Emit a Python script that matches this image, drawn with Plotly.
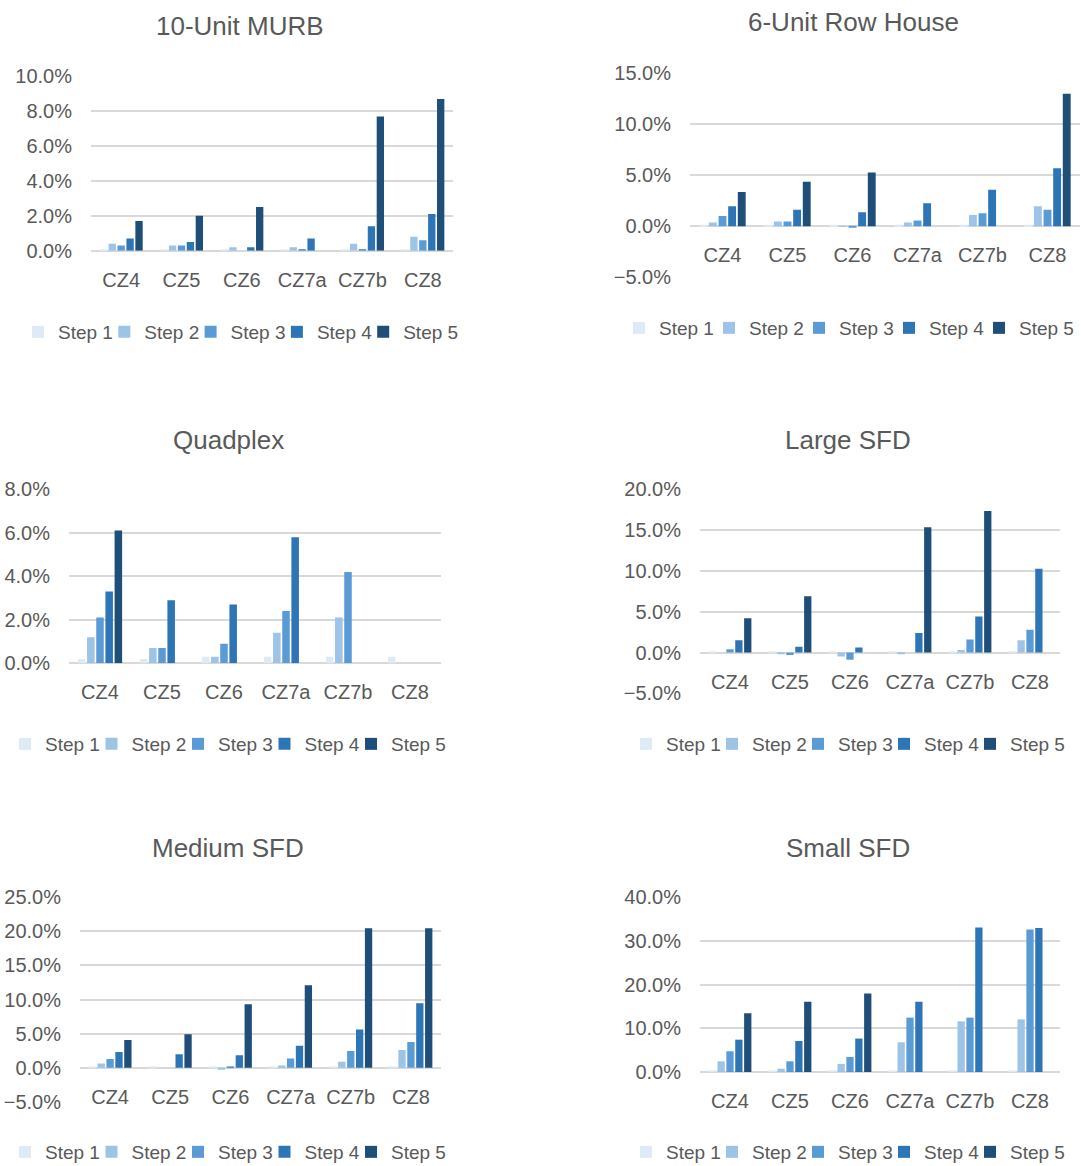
import plotly.graph_objects as go

W, H = 1081, 1166

zones = ["CZ4", "CZ5", "CZ6", "CZ7a", "CZ7b", "CZ8"]
steps = ["Step 1", "Step 2", "Step 3", "Step 4", "Step 5"]
step_colors = ["#DEEBF7", "#9DC3E6", "#5B9BD5", "#2E75B6", "#1F4E79"]

# Savings by step (%), one list per step, values per climate zone
murb_10unit = [
    [0.05, 0.05, 0.05, 0.05, 0.05, 0.05],
    [0.4, 0.3, 0.2, 0.2, 0.4, 0.8],
    [0.3, 0.3, 0.0, 0.1, 0.1, 0.6],
    [0.7, 0.5, 0.2, 0.7, 1.4, 2.1],
    [1.7, 2.0, 2.5, None, 7.7, 8.7],
]
row_house_6unit = [
    [0.1, 0.1, 0.1, 0.1, 0.1, 0.1],
    [0.35, 0.45, -0.05, 0.35, 1.1, 1.95],
    [1.0, 0.45, -0.1, 0.55, 1.25, 1.6],
    [1.95, 1.6, 1.35, 2.25, 3.55, 5.65],
    [3.35, 4.35, 5.25, None, None, 12.95],
]
quadplex = [
    [0.2, 0.2, 0.3, 0.3, 0.3, 0.3],
    [1.2, 0.7, 0.3, 1.4, 2.1, None],
    [2.1, 0.7, 0.9, 2.4, 4.2, None],
    [3.3, 2.9, 2.7, 5.8, None, None],
    [6.1, None, None, None, None, None],
]
large_sfd = [
    [0.1, 0.1, 0.1, 0.1, 0.1, 0.1],
    [0.0, -0.2, -0.5, -0.2, 0.3, 1.5],
    [0.4, -0.3, -0.9, 0.0, 1.6, 2.8],
    [1.5, 0.7, 0.6, 2.4, 4.4, 10.25],
    [4.2, 6.9, None, 15.35, 17.35, None],
]
medium_sfd = [
    [0.1, 0.1, 0.1, 0.2, 0.2, 0.2],
    [0.6, 0.0, -0.3, 0.3, 0.85, 2.6],
    [1.25, 0.0, 0.2, 1.35, 2.45, 3.75],
    [2.3, 1.95, 1.8, 3.2, 5.6, 9.45],
    [4.05, 4.9, 9.3, 12.1, 20.45, 20.45],
]
small_sfd = [
    [0.3, 0.2, 0.3, 0.3, 0.3, 0.3],
    [2.45, 0.75, 1.85, 6.8, 11.6, 12.05],
    [4.75, 2.45, 3.45, 12.45, 12.45, 32.6],
    [7.4, 7.1, 7.65, 16.1, 33.1, 32.95],
    [13.45, 16.1, 18.0, None, None, None],
]

titles = ["10-Unit MURB", "6-Unit Row House", "Quadplex",
          "Large SFD", "Medium SFD", "Small SFD"]
datasets = [murb_10unit, row_house_6unit, quadplex,
            large_sfd, medium_sfd, small_sfd]

# Panel layout in pixels: plot x-span, plot y-span (top, bottom), axis range,
# tick step, title centre, legend row (left edge, pitch, centre y)
panels = [
    dict(x=(91, 453), y=(76.3, 250.7), rng=(0, 10), dtick=2,
         title=(240, 26), legend=(35, 86.3, 332)),
    dict(x=(690, 1080), y=(72.7, 277.3), rng=(-5, 15), dtick=5,
         title=(853, 22), legend=(636, 90.0, 328)),
    dict(x=(69, 441), y=(489.3, 663.3), rng=(0, 8), dtick=2,
         title=(228, 440), legend=(22, 86.5, 744)),
    dict(x=(700, 1060), y=(489.3, 693.3), rng=(-5, 20), dtick=5,
         title=(848, 440), legend=(643, 86.0, 744)),
    dict(x=(80, 441), y=(897.3, 1101.7), rng=(-5, 25), dtick=5,
         title=(228, 848), legend=(22, 86.5, 1152)),
    dict(x=(700, 1060), y=(897.3, 1072), rng=(0, 40), dtick=10,
         title=(848, 848), legend=(643, 86.0, 1152)),
]

FONT = "Liberation Sans Narrow, Arial Narrow, Liberation Sans, Arial, sans-serif"
TXT = "#595959"
GRID = "#D9D9D9"


def px_x(v):
    return v / W


def px_y(v):
    return 1 - v / H


fig = go.Figure()
layout = dict(
    width=W, height=H,
    margin=dict(l=0, r=0, t=0, b=0, autoexpand=False),
    paper_bgcolor="white", plot_bgcolor="white",
    barmode="group", bargap=0.26, bargroupgap=0.18,
    font=dict(family=FONT, color=TXT, size=20),
    showlegend=True,
    annotations=[],
)

for i, (p, data, title) in enumerate(zip(panels, datasets, titles)):
    n = i + 1
    xa = "x" if n == 1 else f"x{n}"
    ya = "y" if n == 1 else f"y{n}"
    leg_left, leg_pitch, leg_y = p["legend"]

    for s, (name, color) in enumerate(zip(steps, step_colors)):
        # one single-entry legend per step so the row keeps a compact spacing
        k = i * 5 + s + 1
        lg = "legend" if k == 1 else f"legend{k}"
        fig.add_trace(go.Bar(
            x=zones, y=data[s], name=name, xaxis=xa, yaxis=ya, legend=lg,
            marker=dict(color=color, line=dict(width=0)),
            hoverinfo="x+y+name",
        ))
        text_left = leg_left + 18 + s * leg_pitch
        layout[lg] = dict(
            orientation="h", x=px_x(text_left - 35), y=px_y(leg_y),
            xanchor="left", yanchor="middle",
            font=dict(size=19, color=TXT, family=FONT),
            bgcolor="rgba(0,0,0,0)", itemclick=False, itemdoubleclick=False,
        )

    y_top, y_bot = px_y(p["y"][0]), px_y(p["y"][1])
    lo, hi = p["rng"]
    zero_pos = y_bot + (0 - lo) / (hi - lo) * (y_top - y_bot)

    layout["xaxis" if n == 1 else f"xaxis{n}"] = dict(
        domain=[px_x(p["x"][0]), px_x(p["x"][1])],
        anchor="free", position=zero_pos,
        type="category", range=[-0.5, 5.5],
        showgrid=False, showline=False, zeroline=False,
        ticks="", ticklabelstandoff=15, tickangle=0, automargin=False,
        tickfont=dict(size=20, color=TXT, family=FONT),
        fixedrange=True,
    )
    layout["yaxis" if n == 1 else f"yaxis{n}"] = dict(
        domain=[y_bot, y_top], anchor=xa,
        range=[lo, hi], dtick=p["dtick"], tick0=0,
        tickformat=".1f", ticksuffix="%",
        showgrid=True, gridcolor=GRID, gridwidth=1.5,
        zeroline=True, zerolinecolor=GRID, zerolinewidth=1.5,
        showline=False, ticks="", ticklabelstandoff=18, automargin=False,
        tickfont=dict(size=20, color=TXT, family=FONT),
        fixedrange=True,
    )
    layout["annotations"].append(dict(
        text=title, x=px_x(p["title"][0]), y=px_y(p["title"][1]),
        xref="paper", yref="paper", xanchor="center", yanchor="middle",
        showarrow=False, font=dict(size=26, color=TXT, family=FONT),
    ))

fig.update_layout(**layout)
fig.write_html("out.html")
